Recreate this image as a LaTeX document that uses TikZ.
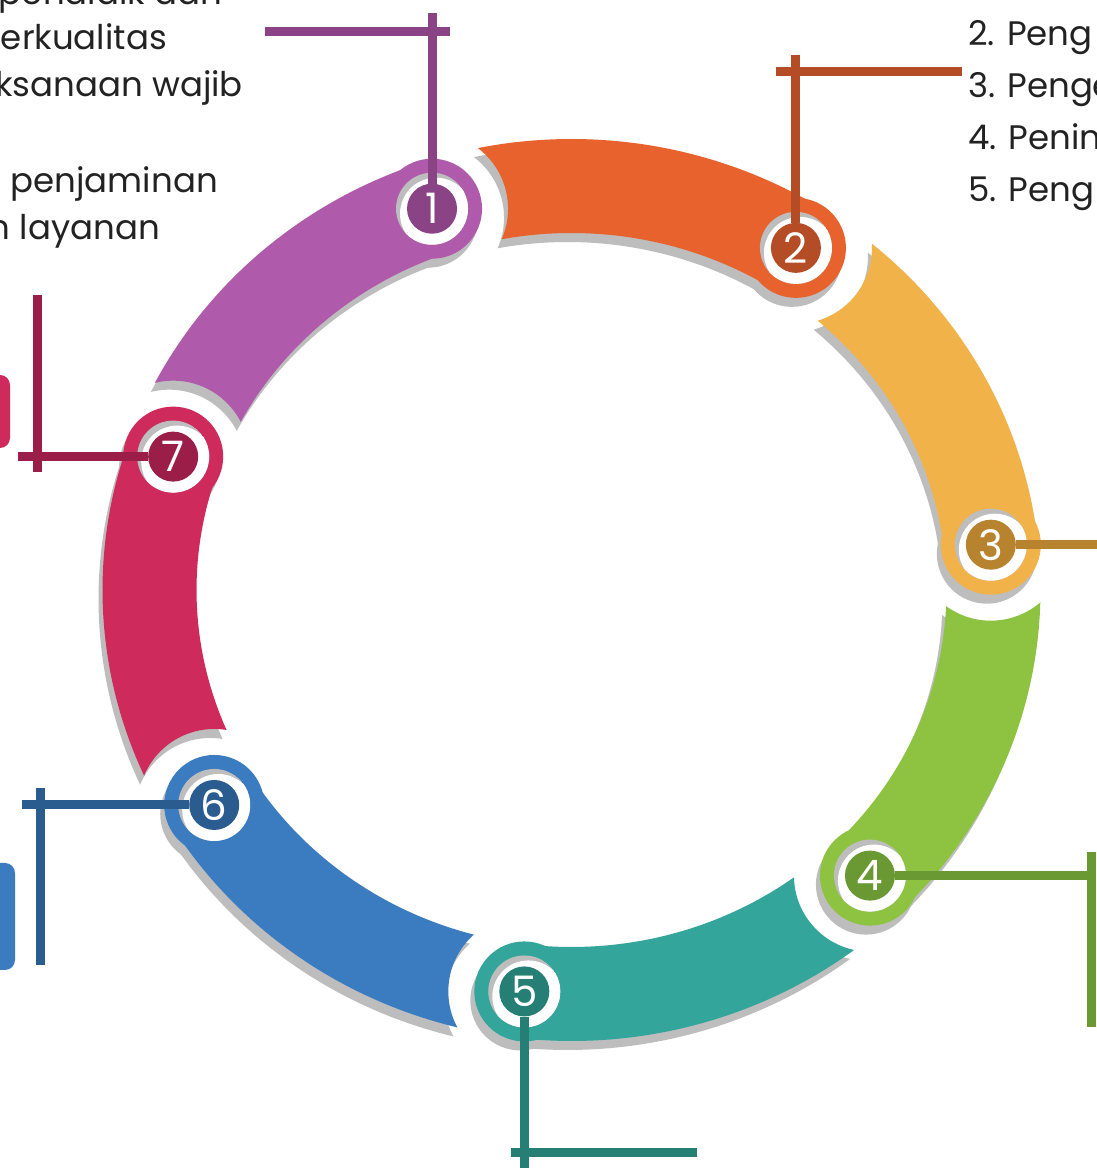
\documentclass[tikz,border=0pt]{standalone}
\usepackage{fontspec}
\setmainfont{Poppins}
\usetikzlibrary{calc}
\definecolor{c1}{HTML}{B05AAB}\definecolor{d1}{HTML}{8A4384}
\definecolor{c2}{HTML}{E8622E}\definecolor{d2}{HTML}{B44C25}
\definecolor{c3}{HTML}{F2B24A}\definecolor{d3}{HTML}{B8832F}
\definecolor{c4}{HTML}{8DC340}\definecolor{d4}{HTML}{6A9934}
\definecolor{c5}{HTML}{33A59B}\definecolor{d5}{HTML}{257F74}
\definecolor{c6}{HTML}{3B7BBF}\definecolor{d6}{HTML}{2A5C90}
\definecolor{c7}{HTML}{CE2A5B}\definecolor{d7}{HTML}{9A1E47}
\definecolor{shadowc}{HTML}{BDBDBD}
\definecolor{txtc}{HTML}{222222}
\begin{document}
\begin{tikzpicture}[x=1pt,y=1pt,
  numc/.style={circle, minimum size=50pt, inner sep=0pt, text=white, font=\fontsize{42}{42}\selectfont},
  callout/.style={line width=9pt},
  txt/.style={text=txtc, font=\fontsize{34}{34}\selectfont, inner sep=0pt},
  sidebox/.style={rounded corners=10pt}]
\useasboundingbox (0,0) rectangle (1096,1168);
\fill[white] (0,0) rectangle (1096,1168);
\coordinate (C) at (571.5,578);
\coordinate (S) at (567.5,569);
% shadows (centre shifted by (-4,-9))
\foreach \k in {1,...,7}{
  \pgfmathsetmacro\ta{109.3-51.43*(\k-1)}
  \pgfmathsetmacro\tb{\ta+51.43}
  \begin{scope}
    \clip (-200,-200) -- (-200,1400) -- (1300,1400) -- (1300,-200) -- cycle
      ($(S)+(\tb:422 and 404)+(76,0)$) arc[start angle=0,end angle=360,radius=76pt];
    \draw[line width=94pt, shadowc] ($(S)+(\ta:422 and 404)$) arc[start angle=\ta, end angle=\tb, x radius=422pt, y radius=404pt];
    \fill[shadowc] ($(S)+(\ta:422 and 404)$) circle[radius=50pt];
  \end{scope}
}
% coloured bands
\foreach \k in {1,...,7}{
  \pgfmathsetmacro\ta{109.3-51.43*(\k-1)}
  \pgfmathsetmacro\tb{\ta+51.43}
  \begin{scope}
    \clip (-200,-200) -- (-200,1400) -- (1300,1400) -- (1300,-200) -- cycle
      ($(C)+(\tb:422 and 404)+(76,0)$) arc[start angle=0,end angle=360,radius=76pt];
    \draw[line width=94pt, c\k] ($(C)+(\ta:422 and 404)$) arc[start angle=\ta, end angle=\tb, x radius=422pt, y radius=404pt];
    \fill[c\k] ($(C)+(\ta:422 and 404)$) circle[radius=50pt];
  \end{scope}
}
% heads
\foreach \k in {1,...,7}{
  \pgfmathsetmacro\ta{109.3-51.43*(\k-1)}
  \begin{scope}
    \clip ($(C)+(\ta:422 and 404)$) circle[radius=36pt];
    \fill[shadowc] ($(C)+(\ta:422 and 404)$) circle[radius=36pt];
    \fill[white] ($(C)+(\ta:422 and 404)+(4,-5)$) circle[radius=36pt];
  \end{scope}
  \node[numc, fill=d\k] (n\k) at ($(C)+(\ta:422 and 404)$) {\k};
}
% callout coordinates
\coordinate (t1) at (0,1155);
\coordinate (h1a) at (265,1136); \coordinate (h1b) at (450,1136);
\coordinate (t2) at (0,1113);
\coordinate (h2a) at (776,1096); \coordinate (h2b) at (962,1096);
\coordinate (t3) at (1100,0);
\coordinate (t4) at (1091,0);
\coordinate (v4a) at (1091,316); \coordinate (v4b) at (1091,141);
\coordinate (t5) at (0,-5);
\coordinate (h5a) at (511,15); \coordinate (h5b) at (697,15);
\coordinate (t6) at (22,0);
\coordinate (v6a) at (40,380); \coordinate (v6b) at (40,203);
\coordinate (t7) at (18,0);
\coordinate (v7a) at (37,873); \coordinate (v7b) at (37,696);
% callouts
\draw[callout, d1] (n1) -- (n1 |- t1);
\draw[callout, d1] (h1a) -- (h1b);
\draw[callout, d2] (n2) -- (n2 |- t2);
\draw[callout, d2] (h2a) -- (h2b);
\draw[callout, d3] (n3) -- (t3 |- n3);
\draw[callout, d4] (n4) -- (t4 |- n4);
\draw[callout, d4] (v4a) -- (v4b);
\draw[callout, d5] (n5) -- (n5 |- t5);
\draw[callout, d5] (h5a) -- (h5b);
\draw[callout, d6] (n6) -- (t6 |- n6);
\draw[callout, d6] (v6a) -- (v6b);
\draw[callout, d7] (n7) -- (t7 |- n7);
\draw[callout, d7] (v7a) -- (v7b);
% side boxes cut by the edge
\fill[c7, sidebox] (-30,720) rectangle (10,793);
\node[inner sep=0pt] (box7) at (-10,756) {};
\fill[c6, sidebox] (-30,198) rectangle (15,305);
\node[inner sep=0pt] (box6) at (-8,251) {};
% texts
\node[txt, anchor=base east] (l0) at (222,1163) {pendidik dan};
\node[txt, anchor=base east] (l1) at (167,1118) {berkualitas};
\node[txt, anchor=base east] (l2) at (243,1071) {laksanaan wajib};
\node[txt, anchor=base east] (l3) at (218,975) {n penjaminan};
\node[txt, anchor=base east] (l4) at (160,928) {n layanan};
\node[txt, anchor=base west] (r2) at (968,1122) {2. Peng};
\node[txt, anchor=base west] (r3) at (968,1070) {3. Penge};
\node[txt, anchor=base west] (r4) at (968,1018) {4. Penin};
\node[txt, anchor=base west] (r5) at (968,966) {5. Peng};
\end{tikzpicture}
\end{document}
